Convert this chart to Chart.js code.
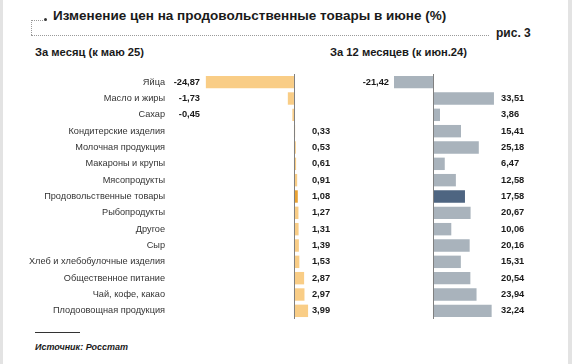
<!DOCTYPE html>
<html>
<head>
<meta charset="utf-8">
<script src="https://cdn.jsdelivr.net/npm/chart.js@4"></script>
<style>
  html, body { margin:0; padding:0; background:#fff; }
  body { width:572px; height:364px; position:relative; overflow:hidden; font-family:"Liberation Sans", Arial, sans-serif; color:#1a1a1a; }
  .abs { position:absolute; white-space:nowrap; }
  .edge-l { position:absolute; left:0; top:0; width:3px; height:364px; background:#e3e3e3; }
  .edge-r { position:absolute; right:0; top:0; width:4px; height:364px; background:#e3e3e3; }
  .title { left:53px; top:8px; font-size:13.5px; font-weight:bold; }
  .fig { left:496px; top:26px; font-size:12px; font-weight:bold; }
  .sub { top:46px; font-size:11.2px; font-weight:bold; }
  .dots-h { left:31px; top:35px; width:458px; border-top:1px dotted #9a9a9a; }
  .dots-v { left:31px; top:20px; height:15px; border-left:1px dotted #9a9a9a; }
  .dots-t { left:31px; top:20px; width:12px; border-top:1px dotted #9a9a9a; }
  .dot { left:44px; top:18px; width:3px; height:3px; border-radius:50%; background:#333; }
  .src-line { left:35px; top:332px; width:45px; border-top:1px solid #333; }
  .src { left:35px; top:342px; font-size:9px; font-weight:bold; font-style:italic; }
  canvas { position:absolute; }
</style>
</head>
<body>
<div class="edge-l"></div>
<div class="edge-r"></div>
<div class="abs dots-v"></div>
<div class="abs dots-t"></div>
<div class="abs dot"></div>
<div class="abs dots-h"></div>
<div class="abs title">Изменение цен на продовольственные товары в июне (%)</div>
<div class="abs fig">рис. 3</div>
<div class="abs sub" style="left:35px">За месяц (к маю 25)</div>
<div class="abs sub" style="left:330px">За 12 месяцев (к июн.24)</div>
<canvas id="c-month" width="340" height="254" style="left:0;top:70px"></canvas>
<canvas id="c-year" width="228" height="254" style="left:340px;top:70px"></canvas>
<div class="abs src-line"></div>
<div class="abs src">Источник: Росстат</div>
<script>
// ---- data ----
const categories = [
  'Яйца', 'Масло и жиры', 'Сахар', 'Кондитерские изделия', 'Молочная продукция',
  'Макароны и крупы', 'Мясопродукты', 'Продовольственные товары', 'Рыбопродукты',
  'Другое', 'Сыр', 'Хлеб и хлебобулочные изделия', 'Общественное питание',
  'Чай, кофе, какао', 'Плодоовощная продукция'
];
const monthChange = [-24.87, -1.73, -0.45, 0.33, 0.53, 0.61, 0.91, 1.08, 1.27, 1.31, 1.39, 1.53, 2.87, 2.97, 3.99];
const yearChange  = [-21.42, 33.51, 3.86, 15.41, 25.18, 6.47, 12.58, 17.58, 20.67, 10.06, 20.16, 15.31, 20.54, 23.94, 32.24];
const highlight = 'Продовольственные товары';

const fmt = v => v.toFixed(2).replace('.', ',');

// value labels + zero line
const labelsPlugin = {
  id: 'valueLabels',
  afterDatasetsDraw(chart, args, opts) {
    const { ctx, chartArea, scales: { x } } = chart;
    const zero = x.getPixelForValue(0);
    ctx.save();
    ctx.strokeStyle = '#808080';
    ctx.lineWidth = 1;
    ctx.beginPath();
    ctx.moveTo(Math.round(zero) + 0.5, chartArea.top);
    ctx.lineTo(Math.round(zero) + 0.5, chartArea.bottom);
    ctx.stroke();

    ctx.font = 'bold 9.3px "Liberation Sans", Arial, sans-serif';
    ctx.fillStyle = '#1a1a1a';
    ctx.textBaseline = 'middle';
    const meta = chart.getDatasetMeta(0);
    chart.data.datasets[0].data.forEach((v, i) => {
      const bar = meta.data[i];
      if (v < 0) {
        ctx.textAlign = 'right';
        const px = opts.negAt != null ? opts.negAt : bar.x - 5;
        ctx.fillText(fmt(v), px, bar.y);
      } else {
        ctx.textAlign = 'left';
        ctx.fillText(fmt(v), zero + opts.posOffset, bar.y);
      }
    });
    ctx.restore();
  }
};

function makeChart(id, values, colors, xMin, xMax, yAxis, labelOpts) {
  return new Chart(document.getElementById(id), {
    type: 'bar',
    data: {
      labels: categories,
      datasets: [{
        data: values,
        backgroundColor: categories.map(c => c === highlight ? colors[1] : colors[0]),
        barPercentage: 0.76,
        categoryPercentage: 1
      }]
    },
    options: {
      responsive: false,
      maintainAspectRatio: false,
      animation: false,
      indexAxis: 'y',
      layout: { padding: { top: 4, bottom: 5, left: 0, right: 0 } },
      plugins: { legend: { display: false }, tooltip: { enabled: false }, valueLabels: labelOpts },
      scales: {
        x: { display: false, min: xMin, max: xMax },
        y: yAxis
      }
    },
    plugins: [labelsPlugin]
  });
}

// category axis for the left panel: fixed width, no extra top/bottom padding
const catAxis = {
  grid: { display: false, drawTicks: false },
  border: { display: false },
  ticks: { padding: 11, color: '#333', font: { family: '"Liberation Sans", Arial, sans-serif', size: 9.2 } },
  afterFit(s) { s.width = 176; s.paddingTop = 0; s.paddingBottom = 0; }
};

makeChart('c-month', monthChange, ['#F9CD86', '#E9A232'], -33.3, 13.0, catAxis, { negAt: 200, posOffset: 18 });
makeChart('c-year',  yearChange,  ['#A9B3BC', '#4E6581'], -51.1, 74.2, { display: false }, { negAt: null, posOffset: 68 });
</script>
</body>
</html>
